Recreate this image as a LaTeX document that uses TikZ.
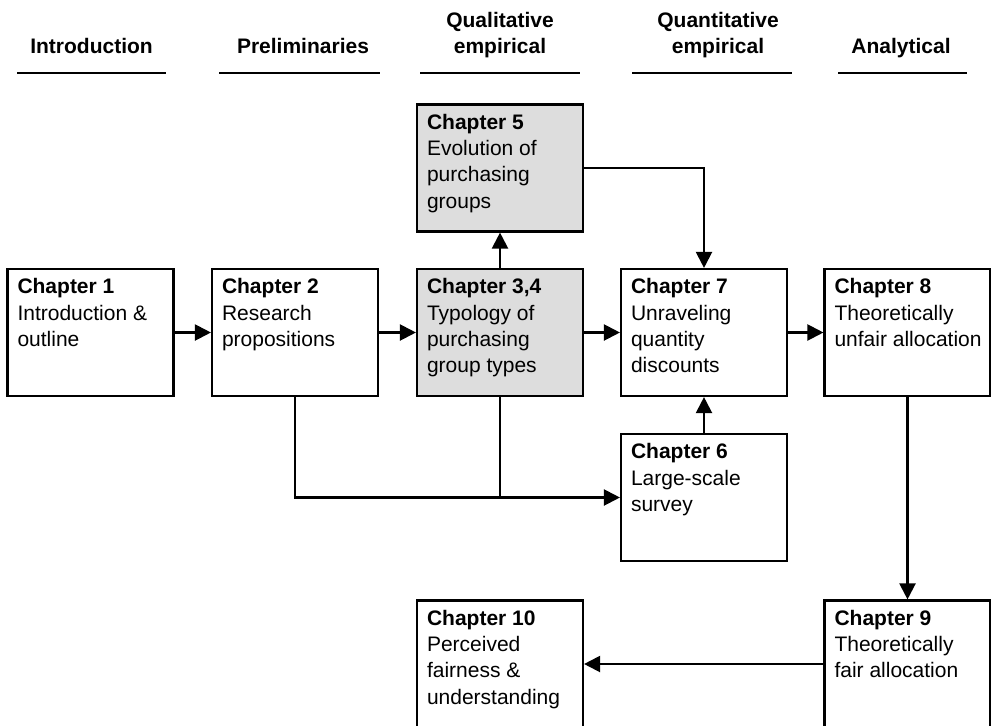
\documentclass[tikz,border=0pt]{standalone}
\usepackage{fontspec}
\setmainfont{Liberation Sans}
\usetikzlibrary{arrows.meta}
\definecolor{boxgray}{HTML}{DDDDDD}
\newcommand\chaptext[2]{\parbox[c][95.25pt][t]{124.5pt}{\raggedright\leftskip=7.5pt\fontsize{15.75pt}{19.7pt}\selectfont\rule{0pt}{18.6pt}\textbf{#1}\\#2\par}}
\newcommand\headtext[1]{\parbox[b]{150pt}{\centering\fontsize{15.75pt}{19.5pt}\selectfont\bfseries #1\par}}
\tikzset{
  chapbox/.style={draw, line width=1.6pt, inner sep=0pt, fill=white},
  graybox/.style={chapbox, fill=boxgray},
  headnode/.style={inner sep=0pt, anchor=base},
  underline/.style={line width=1.6pt},
  arr/.style={line width=1.6pt, -{Triangle[length=12pt, width=12pt]}},
  link/.style={line width=1.6pt}
}
\begin{document}
\begin{tikzpicture}[x=0.75pt, y=-0.75pt]
\clip (0,0) rectangle (991,725);
% headers
\node[headnode] (h1) at (91.5,53) {\headtext{Introduction}};
\node[headnode] (h2) at (303,53) {\headtext{Preliminaries}};
\node[headnode] (h3) at (500,53) {\headtext{Qualitative\\empirical}};
\node[headnode] (h4) at (718,53) {\headtext{Quantitative\\empirical}};
\node[headnode] (h5) at (901,53) {\headtext{Analytical}};
\draw[underline] (17,73) -- (166,73);
\draw[underline] (219,73) -- (380,73);
\draw[underline] (420,73) -- (580,73);
\draw[underline] (632,73) -- (792,73);
\draw[underline] (838,73) -- (967,73);
% boxes
\node[chapbox] (ch1) at (90.5,332.5) {\chaptext{Chapter 1}{Introduction \&\\outline}};
\node[chapbox] (ch2) at (295,332.5) {\chaptext{Chapter 2}{Research\\propositions}};
\node[graybox] (ch34) at (500,332.5) {\chaptext{Chapter 3,4}{Typology of\\purchasing\\group types}};
\node[graybox] (ch5) at (500,168) {\chaptext{Chapter 5}{Evolution of\\purchasing\\groups}};
\node[chapbox] (ch7) at (704,332.5) {\chaptext{Chapter 7}{Unraveling\\quantity\\discounts}};
\node[chapbox] (ch8) at (907.5,332.5) {\chaptext{Chapter 8}{Theoretically\\unfair allocation}};
\node[chapbox] (ch6) at (704,497.5) {\chaptext{Chapter 6}{Large-scale\\survey}};
\node[chapbox] (ch9) at (907.5,664) {\chaptext{Chapter 9}{Theoretically\\fair allocation}};
\node[chapbox] (ch10) at (500,664) {\chaptext{Chapter 10}{Perceived\\fairness \&\\understanding}};
% connectors
\draw[arr] (ch1) -- (ch2);
\draw[arr] (ch2) -- (ch34);
\draw[arr] (ch34) -- (ch7);
\draw[arr] (ch7) -- (ch8);
\draw[arr] (ch34) -- (ch5);
\draw[arr] (ch5.east) -| (ch7.north);
\draw[arr] (ch6) -- (ch7);
\draw[arr] (ch2.south) |- (ch6.west);
\draw[link] (ch34.south) -- (ch34.south |- ch6.west);
\draw[arr] (ch8) -- (ch9);
\draw[arr] (ch9) -- (ch10);
\end{tikzpicture}
\end{document}
